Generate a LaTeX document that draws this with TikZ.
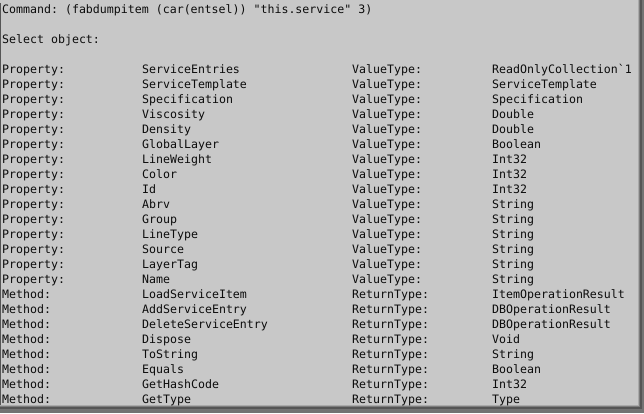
\documentclass[tikz,border=0pt]{standalone}
\usepackage{fontspec}
\setmonofont{DejaVu Sans Mono}
\definecolor{bg}{RGB}{200,200,200}
\definecolor{sha}{RGB}{170,170,170}
\definecolor{shb}{RGB}{125,125,125}
\definecolor{shc}{RGB}{85,85,85}
\definecolor{shd}{RGB}{115,115,115}
\definecolor{txtc}{RGB}{12,12,12}
\begin{document}
\begin{tikzpicture}[x=1pt,y=-1pt,
  txt/.style={anchor=base west, inner sep=0pt, text=txtc,
    font=\ttfamily\fontsize{11.6pt}{15pt}\selectfont}]
\useasboundingbox (0,0) rectangle (644,413);
\fill[bg] (0,0) rectangle (644,413);
% left edge line
\fill[shc] (0,3) rectangle (1.2,406);
% right shadow
\fill[sha] (638,0) rectangle (639,407);
\fill[shb] (639,0) rectangle (640,408);
\fill[shc] (640,0) rectangle (642,410);
\fill[shd] (642,0) rectangle (644,413);
% bottom shadow
\fill[sha] (0,405) rectangle (638,406);
\fill[shb] (0,406) rectangle (639,407);
\fill[shc] (0,407) rectangle (640,409);
\fill[shd] (0,409) rectangle (644,413);
% text
\node[txt] (cmd) at (2,13) {Command: (fabdumpitem (car(entsel)) "this.service" 3)};
\node[txt] (sel) at (2,43) {Select object:};
\foreach \k/\a/\b/\c/\d in {
  4/Property:/ServiceEntries/ValueType:/ReadOnlyCollection\symbol{96}1,
  5/Property:/ServiceTemplate/ValueType:/ServiceTemplate,
  6/Property:/Specification/ValueType:/Specification,
  7/Property:/Viscosity/ValueType:/Double,
  8/Property:/Density/ValueType:/Double,
  9/Property:/GlobalLayer/ValueType:/Boolean,
  10/Property:/LineWeight/ValueType:/Int32,
  11/Property:/Color/ValueType:/Int32,
  12/Property:/Id/ValueType:/Int32,
  13/Property:/Abrv/ValueType:/String,
  14/Property:/Group/ValueType:/String,
  15/Property:/LineType/ValueType:/String,
  16/Property:/Source/ValueType:/String,
  17/Property:/LayerTag/ValueType:/String,
  18/Property:/Name/ValueType:/String,
  19/Method:/LoadServiceItem/ReturnType:/ItemOperationResult,
  20/Method:/AddServiceEntry/ReturnType:/DBOperationResult,
  21/Method:/DeleteServiceEntry/ReturnType:/DBOperationResult,
  22/Method:/Dispose/ReturnType:/Void,
  23/Method:/ToString/ReturnType:/String,
  24/Method:/Equals/ReturnType:/Boolean,
  25/Method:/GetHashCode/ReturnType:/Int32,
  26/Method:/GetType/ReturnType:/Type}
{
  \node[txt] (r\k a) at (2,{13+15*\k}) {\a};
  \node[txt] (r\k b) at (142,{13+15*\k}) {\b};
  \node[txt] (r\k c) at (352,{13+15*\k}) {\c};
  \node[txt] (r\k d) at (492,{13+15*\k}) {\d};
}
\end{tikzpicture}
\end{document}
